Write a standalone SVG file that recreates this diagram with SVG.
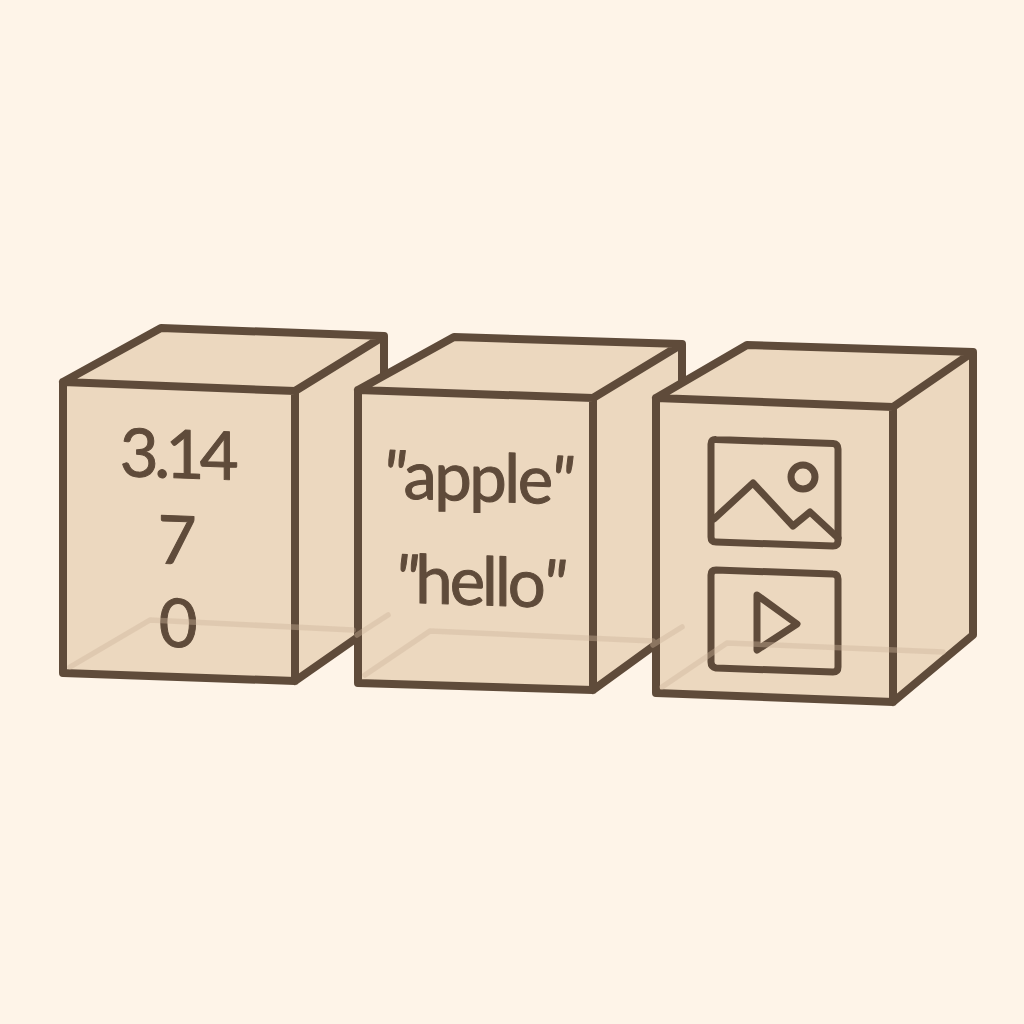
<svg xmlns="http://www.w3.org/2000/svg" width="1024" height="1024" viewBox="0 0 1024 1024">
<style>
.bg{fill:#fef4e8}
.face{fill:#ecd8bf;stroke:none}
.edge{fill:none;stroke:#5f4b3a;stroke-width:8;stroke-linejoin:round;stroke-linecap:round}
.icon{fill:none;stroke:#5f4b3a;stroke-width:7;stroke-linejoin:round;stroke-linecap:round}
.faint{fill:none;stroke:#cdb59b;stroke-width:5.500;stroke-linejoin:round;stroke-linecap:round;opacity:.4}
.t{font-family:"Lato","Noto Sans",sans-serif;font-size:67px;fill:#5f4b3a;stroke:#5f4b3a;stroke-width:1;stroke-linejoin:round;text-anchor:middle;letter-spacing:-2.500px}
.n{letter-spacing:-4.500px}
.h{letter-spacing:-3px}
.q{font-style:italic}
</style>
<rect class="bg" width="1024" height="1024"/>
<g id="box-numbers">
<polygon class="face" points="63,382 161,328 384,336 384,620 295,681 63,673"/>
<path class="edge" d="M63,382L295,391V681L63,673ZM63,382L161,328L384,336L295,391M384,336V378M295,681L358,637"/>
<text class="t n" transform="translate(177,478) skewY(2)">3.14</text>
<text class="t" transform="translate(176,564) skewY(2)">7</text>
<text class="t" transform="translate(177,647) skewY(2)">0</text>
</g>
<g id="box-strings">
<polygon class="face" points="358,390 454,337 682,344 682,620 593,690 358,683"/>
<path class="edge" d="M358,390L593,398V690L358,683ZM358,390L454,337L682,344L593,398M682,344V386M593,690L655,645"/>
<text class="t" transform="translate(477,501) skewY(2)"><tspan class="q">"</tspan>apple<tspan class="q">"</tspan></text>
<text class="t h" transform="translate(479,605) skewY(2)"><tspan class="q">"</tspan>hello<tspan class="q">"</tspan></text>
</g>
<g id="box-media">
<polygon class="face" points="656,398 747,345 973,352 973,635 893,702 656,693"/>
<path class="edge" d="M656,398L893,407V702L656,693ZM656,398L747,345L973,352L893,407M973,352V635L893,702"/>
<g id="icon-image">
<path class="icon" d="M716,439.500L833,443.500Q838,444 838,449V541Q838,546 833,546L716,542Q711,542 711,537V444Q711,439 716,439.500Z"/>
<circle class="icon" cx="803" cy="477" r="12"/>
<path class="icon" d="M714,519L753,483L793,526L810,512L838,538"/>
</g>
<g id="icon-video">
<path class="icon" d="M716,570L833,574Q838,574 838,579V667Q838,672 833,672L716,668Q711,667 711,662V575Q711,570 716,570Z"/>
<path class="icon" d="M757,595L797,624L757,650Z"/>
</g>
</g>
<g id="floor-lines">
<path class="faint" d="M70,667L150,620L353,630M388,615L357,635"/>
<path class="faint" d="M365,675L430,631L653,641M682,627L653,645"/>
<path class="faint" d="M662,687L727,643L943,652"/>
</g>
</svg>
